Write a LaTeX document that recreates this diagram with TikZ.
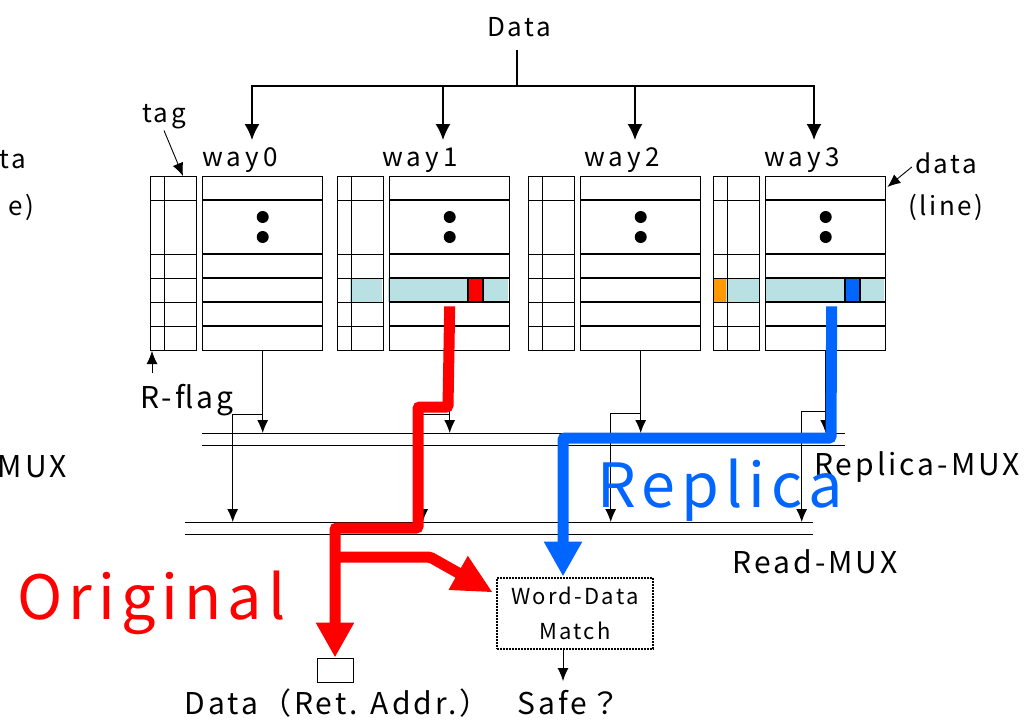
\documentclass[tikz,border=0pt]{standalone}
\usepackage{fontspec}
\setmainfont{Noto Sans CJK JP}[LetterSpace=10]
\usetikzlibrary{arrows.meta,calc}
\definecolor{hitcyan}{RGB}{185,224,227}
\definecolor{origred}{RGB}{255,0,0}
\definecolor{replblue}{RGB}{0,102,255}
\definecolor{flagorange}{RGB}{255,153,0}

\begin{document}
\begin{tikzpicture}[x=1pt,y=-1pt,
lab/.style={font=\fontsize{26}{28}\selectfont,inner sep=1pt},
waylab/.style={font=\fontsize{26}{28}\selectfont\addfontfeature{LetterSpace=16},inner sep=1pt},
biglab/.style={font=\fontsize{30}{34}\selectfont,inner sep=1pt},
huge/.style={font=\fontsize{61}{70}\selectfont,inner sep=0pt,anchor=west},
tagblk/.style={draw,line width=1pt,minimum width=46pt,minimum height=174pt,anchor=north west,inner sep=0pt},
datablk/.style={draw,line width=1.4pt,minimum width=120pt,minimum height=174pt,anchor=north west,inner sep=0pt},
arr/.style={-{Latex[length=13pt,width=11pt]},line width=0.9pt},
toparr/.style={-{Latex[length=16pt,width=15pt]},line width=1.6pt},
bus/.style={line width=1pt},
orig/.style={line width=11pt,origred,rounded corners=2pt},
repl/.style={line width=11pt,replblue,rounded corners=2pt},
matchbox/.style={draw,dash pattern=on 2pt off 1pt,line width=2pt,minimum width=156pt,minimum height=71pt,align=center,font=\fontsize{22}{35}\selectfont}
]
\useasboundingbox (0,0) rectangle (1026,720);

% hit lines
\fill[hitcyan] (350,278) rectangle (382,302);
\fill[hitcyan] (388,278) rectangle (508,302);
\fill[flagorange] (713,278) rectangle (726,302);
\fill[hitcyan] (726,278) rectangle (759,302);
\fill[hitcyan] (765,278) rectangle (884,302);

% ways
\foreach \i/\x in {0/150,1/337,2/528,3/713} {
  \node[tagblk] (tag\i) at (\x,176) {};
  \node[datablk] (way\i) at (\x+52,176) {};
  \draw[line width=1pt] (\x+14,176) -- (\x+14,350);
  \foreach \y in {200,254,278,302,326} {
    \draw[line width=1pt] (\x,\y) -- ++(46,0);
    \draw[line width=1.4pt] (\x+52,\y) -- ++(120,0);
  }
  \fill ($(way\i.north)+(0,41)$) circle (6pt) ++(0,20) circle (6pt);
}
\filldraw[fill=origred,line width=1.4pt] (468,278) rectangle (483,302);
\filldraw[fill=replblue,line width=1.4pt] (845,278) rectangle (860,302);

\node[lab] (data) at (519,27) {Data};
\coordinate (split) at (517,86);
\draw[line width=1.6pt] (517,50) -- (split);
\foreach \i/\lx/\ax in {0/240/252,1/420/443,2/622/635,3/802/814} {
  \node[waylab] (lab\i) at (\lx,160) {way\i};
  \coordinate (in\i) at (\ax,140);
  \draw[toparr] (split) -| (in\i);
}

\node[lab] (taglab) at (164,117) {tag};
\draw[arr] (taglab.south) -- ($(tag0.north east)+(-14,0)$);
\node[lab] (datalab) at (946,163) {data};
\node[lab] (linelab) at (946,207) {(line)};
\draw[arr] ($(datalab.west)+(-2,4)$) -- ($(way3.north east)+(1,11)$);
\node[biglab] (rflag) at (187,400) {R-flag};
\coordinate (flagtail) at (152,373);
\draw[arr] (flagtail) -- ($(tag0.south west)+(2,0)$);

% muxes
\coordinate (repmux) at (0,433);
\coordinate (readmux) at (0,522);
\draw[bus] (202,433) -- (845,433) (202,445) -- (845,445);
\draw[bus] (185,522) -- (813,522) (185,534) -- (813,534);
\foreach \i/\b/\by in {0/30/63,1/27/63,2/30/62,3/24/60} {
  \draw[arr] (way\i.south) -- (way\i.south |- repmux);
  \draw[arr] ($(way\i.south)+(0,\by)$) -- ++(-\b,0) -- ($(way\i.south |- readmux)+(-\b,0)$);
}
\node[biglab,anchor=west] (replmuxlab) at (813,467) {Replica-MUX};
\node[biglab] (readmuxlab) at (815,562) {Read-MUX};

\node[draw,line width=1pt,minimum width=36pt,minimum height=24pt,inner sep=0pt] (retbox) at (335,670) {};
\node[biglab] (retlab) at (337,703) {Data（Ret. Addr.）};
\node[matchbox] (match) at (575,613) {Word-Data\\Match};
\node[biglab] (safe) at (569,703) {Safe？};
\coordinate (safein) at (563,681);
\draw[arr] (match.south -| safein) -- (safein);

% original and replica paths
\coordinate (ojog) at (418,528);
\draw[orig,-{Triangle[length=35pt,width=36pt]}] ($(way1.south)+(0,-45)$) -- (448,407) -- (418,407) -- (ojog) -- (ojog -| retbox.north) -- (retbox.north);
\draw[orig,-{Triangle[length=40pt,width=36pt]}] (336,557) -- (430,557) -- ($(match.north west)+(-3,16)$);
\draw[repl,-{Triangle[length=35pt,width=36pt]}] ($(way3.south)+(6,-45)$) -- (831,438) -- (563,438) -- ($(match.north)+(-12,0)$);

\node[huge,text=origred] (origlab) at (17,603) {Original};
\node[huge,text=replblue] (repllab) at (597,490) {Replica};

\node[lab,anchor=east] (cut1) at (27,160) {ta};
\node[lab,anchor=east] (cut2) at (35,207) {e)};
\node[biglab,anchor=east] (cut3) at (68,467) {MUX};
\end{tikzpicture}
\end{document}
